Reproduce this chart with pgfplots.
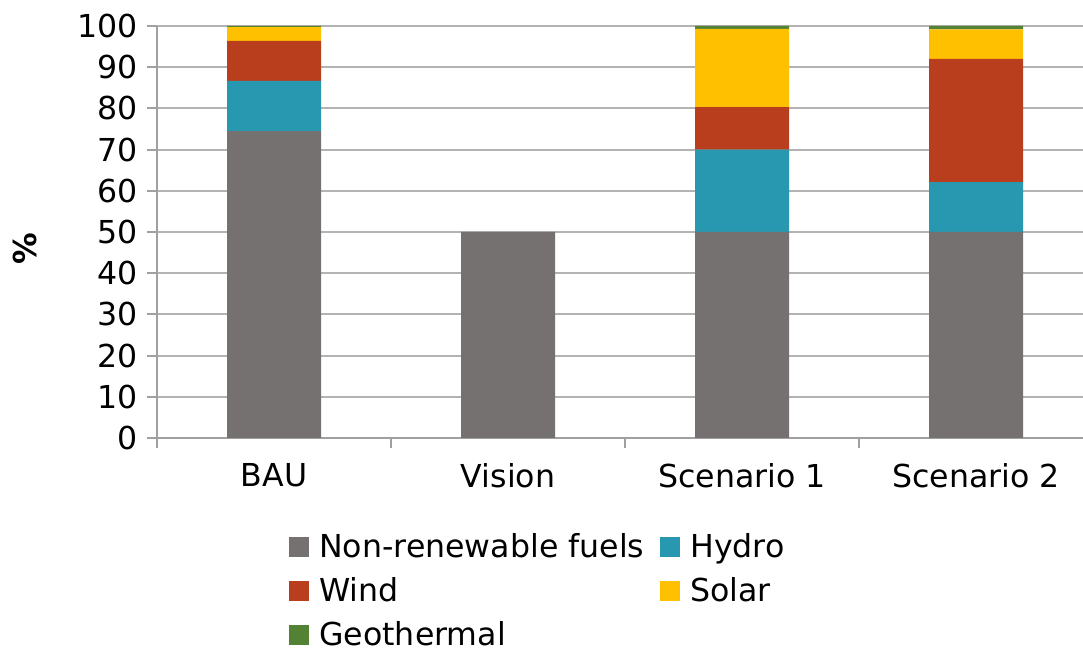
\documentclass[border=0pt]{standalone}
\usepackage{pgfplots}
\pgfplotsset{compat=1.18}
\usepackage{fontspec}
\setmainfont{DejaVu Sans}
\definecolor{cNon}{RGB}{117,113,112}
\definecolor{cHyd}{RGB}{40,151,176}
\definecolor{cWin}{RGB}{184,62,30}
\definecolor{cSol}{RGB}{255,192,0}
\definecolor{cGeo}{RGB}{84,130,53}
\definecolor{cAx}{RGB}{160,160,160}
\begin{document}
\begin{tikzpicture}
\begin{axis}[
  scale only axis,
  width=463pt, height=206pt,
  ybar stacked, bar width=47pt,
  xmin=-0.5, xmax=3.457,
  ymin=0, ymax=100,
  ytick={0,10,...,100},
  xtick={0,1,2,3},
  xticklabels={BAU,Vision,Scenario 1,Scenario 2},
  minor xtick={-0.5,0.5,1.5,2.5},
  major x tick style={draw=none},
  minor x tick style={draw=cAx, line width=1pt},
  tick align=outside,
  major tick length=5pt, minor tick length=5pt,
  y tick style={draw=cAx, line width=1pt},
  axis x line*=bottom, axis y line*=left,
  axis line style={draw=cAx, line width=1pt, -},
  ymajorgrids, grid style={draw=cAx!80, line width=1pt},
  font=\fontsize{15.8}{19}\selectfont,
  /pgf/number format/assume math mode=true,
  xticklabel style={yshift=-4pt},
  yticklabel style={xshift=-1pt},
  ylabel={\textbf{\%}},
  ylabel style={at={(axis description cs:-0.1425,0.46)}, anchor=center},
  legend columns=2,
  legend style={draw=none, at={(axis description cs:0.136,-0.212)}, anchor=north west,
    font=\fontsize{15.8}{19}\selectfont, row sep=4.5pt,
    /tikz/every odd column/.append style={column sep=3pt},
    /tikz/every even column/.append style={column sep=6pt}},
  legend cell align=left,
  legend image code/.code={\fill[#1] (0pt,-5pt) rectangle (10pt,5pt);},
]
\addplot[fill=cNon, draw=none] coordinates {(0,74.5) (1,50) (2,50) (3,50)};
\addplot[fill=cHyd, draw=none] coordinates {(0,12.2) (1,0) (2,20) (3,12.1)};
\addplot[fill=cWin, draw=none] coordinates {(0,9.7) (1,0) (2,10.3) (3,29.9)};
\addplot[fill=cSol, draw=none] coordinates {(0,3.3) (1,0) (2,19) (3,7.2)};
\addplot[fill=cGeo, draw=none] coordinates {(0,0.3) (1,0) (2,0.7) (3,0.8)};
\legend{Non-renewable fuels, Hydro, Wind, Solar, Geothermal}
\end{axis}
\pgfresetboundingbox
\useasboundingbox (-78.5pt,-107pt) rectangle (463pt,219pt);
\end{tikzpicture}
\end{document}
